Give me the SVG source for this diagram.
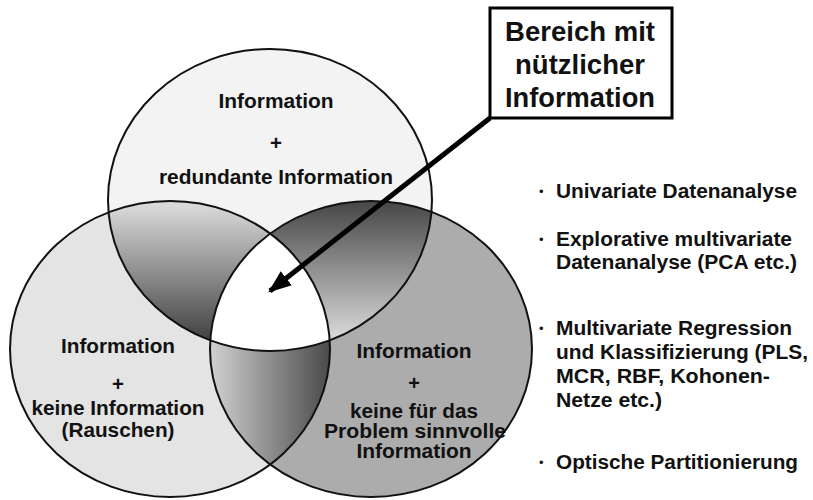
<svg xmlns="http://www.w3.org/2000/svg" width="813" height="500" viewBox="0 0 813 500">
  <style>
    .lbl { font-family: "Liberation Sans", Arial, Helvetica, sans-serif; font-weight: bold; fill: #111; }
    .ring { fill: none; stroke: #111; stroke-width: 2; }
    .conn { stroke: #000; stroke-width: 5; fill: none; }
    .dot { font-family: "Liberation Sans", Arial, Helvetica, sans-serif; font-size: 13px; fill: #111; }
  </style>
  <defs>
    <ellipse id="eTop" cx="270" cy="200" rx="162" ry="151"/>
    <ellipse id="eLeft" cx="170" cy="349" rx="160" ry="148"/>
    <ellipse id="eRight" cx="371" cy="349" rx="161" ry="148"/>
    <clipPath id="cTop"><use href="#eTop"/></clipPath>
    <clipPath id="cLeft"><use href="#eLeft"/></clipPath>
    <clipPath id="cRight"><use href="#eRight"/></clipPath>
    <!-- shading of the pairwise overlaps -->
    <linearGradient id="gTopLeft" gradientUnits="userSpaceOnUse" x1="0" y1="205" x2="0" y2="345">
      <stop offset="0" stop-color="#dadada"/>
      <stop offset="1" stop-color="#3c3c3c"/>
    </linearGradient>
    <linearGradient id="gTopRight" gradientUnits="userSpaceOnUse" x1="0" y1="205" x2="0" y2="335">
      <stop offset="0" stop-color="#4a4a4a"/>
      <stop offset="1" stop-color="#d6d6d6"/>
    </linearGradient>
    <linearGradient id="gLeftRight" gradientUnits="userSpaceOnUse" x1="212" y1="0" x2="330" y2="0">
      <stop offset="0" stop-color="#cfcfcf"/>
      <stop offset="1" stop-color="#4a4a4a"/>
    </linearGradient>
    <marker id="head" viewBox="0 0 10 10" refX="9" refY="5" markerWidth="4.6" markerHeight="3.6" markerUnits="strokeWidth" orient="auto" preserveAspectRatio="none">
      <path d="M0,0 L10,5 L0,10 Z" fill="#000"/>
    </marker>
  </defs>

  <rect width="813" height="500" fill="#ffffff"/>

  <!-- circles with their base tones -->
  <g id="venn">
    <use href="#eTop" fill="#f3f3f3"/>
    <use href="#eLeft" fill="#e4e4e4"/>
    <use href="#eRight" fill="#acacac"/>
    <g clip-path="url(#cTop)">
      <rect x="0" y="190" width="340" height="170" fill="url(#gTopLeft)" clip-path="url(#cLeft)"/>
    </g>
    <g clip-path="url(#cTop)">
      <rect x="200" y="190" width="240" height="170" fill="url(#gTopRight)" clip-path="url(#cRight)"/>
    </g>
    <g clip-path="url(#cLeft)">
      <rect x="200" y="220" width="140" height="260" fill="url(#gLeftRight)" clip-path="url(#cRight)"/>
    </g>
    <g clip-path="url(#cTop)">
      <g clip-path="url(#cLeft)">
        <rect x="200" y="220" width="140" height="140" fill="#ffffff" clip-path="url(#cRight)"/>
      </g>
    </g>
    <use href="#eTop" class="ring"/>
    <use href="#eLeft" class="ring"/>
    <use href="#eRight" class="ring"/>
  </g>

  <g id="node-top" class="lbl" font-size="20.5" text-anchor="middle">
    <text x="276" y="108" textLength="115" lengthAdjust="spacingAndGlyphs">Information</text>
    <text x="276" y="150">+</text>
    <text x="276" y="184" textLength="234" lengthAdjust="spacingAndGlyphs">redundante Information</text>
  </g>

  <g id="node-left" class="lbl" font-size="20.5" text-anchor="middle">
    <text x="118" y="353" textLength="114" lengthAdjust="spacingAndGlyphs">Information</text>
    <text x="118" y="391">+</text>
    <text x="118" y="415" textLength="173" lengthAdjust="spacingAndGlyphs">keine Information</text>
    <text x="118" y="437" textLength="113" lengthAdjust="spacingAndGlyphs">(Rauschen)</text>
  </g>

  <g id="node-right" class="lbl" font-size="20" text-anchor="middle">
    <text x="414" y="358" textLength="115" lengthAdjust="spacingAndGlyphs">Information</text>
    <text x="414" y="390">+</text>
    <text x="414" y="418" textLength="128" lengthAdjust="spacingAndGlyphs">keine für das</text>
    <text x="415" y="438" textLength="182" lengthAdjust="spacingAndGlyphs">Problem sinnvolle</text>
    <text x="414" y="458" textLength="115" lengthAdjust="spacingAndGlyphs">Information</text>
  </g>

  <g id="node-box">
    <rect x="490" y="8" width="182" height="110" fill="#ffffff" stroke="#000" stroke-width="3"/>
    <g class="lbl" font-size="27" text-anchor="middle">
      <text x="580" y="41" textLength="150" lengthAdjust="spacingAndGlyphs">Bereich mit</text>
      <text x="580" y="74" textLength="130" lengthAdjust="spacingAndGlyphs">nützlicher</text>
      <text x="580" y="107" textLength="150" lengthAdjust="spacingAndGlyphs">Information</text>
    </g>
  </g>

  <g id="connectors">
    <line class="conn" x1="490" y1="118" x2="270" y2="291" marker-end="url(#head)"/>
  </g>

  <g id="node-list">
    <g class="dot">
      <text x="539" y="196">•</text>
      <text x="539" y="244">•</text>
      <text x="539" y="333">•</text>
      <text x="539" y="467">•</text>
    </g>
    <g class="lbl" font-size="20">
      <text x="556" y="198" textLength="241" lengthAdjust="spacingAndGlyphs">Univariate Datenanalyse</text>
      <text x="556" y="246" textLength="236" lengthAdjust="spacingAndGlyphs">Explorative multivariate</text>
      <text x="556" y="269" textLength="241" lengthAdjust="spacingAndGlyphs">Datenanalyse (PCA etc.)</text>
      <text x="556" y="335" textLength="236" lengthAdjust="spacingAndGlyphs">Multivariate Regression</text>
      <text x="556" y="359" textLength="252" lengthAdjust="spacingAndGlyphs">und Klassifizierung (PLS,</text>
      <text x="556" y="383" textLength="214" lengthAdjust="spacingAndGlyphs">MCR, RBF, Kohonen-</text>
      <text x="556" y="407" textLength="106" lengthAdjust="spacingAndGlyphs">Netze etc.)</text>
      <text x="556" y="469" textLength="242" lengthAdjust="spacingAndGlyphs">Optische Partitionierung</text>
    </g>
  </g>
</svg>
